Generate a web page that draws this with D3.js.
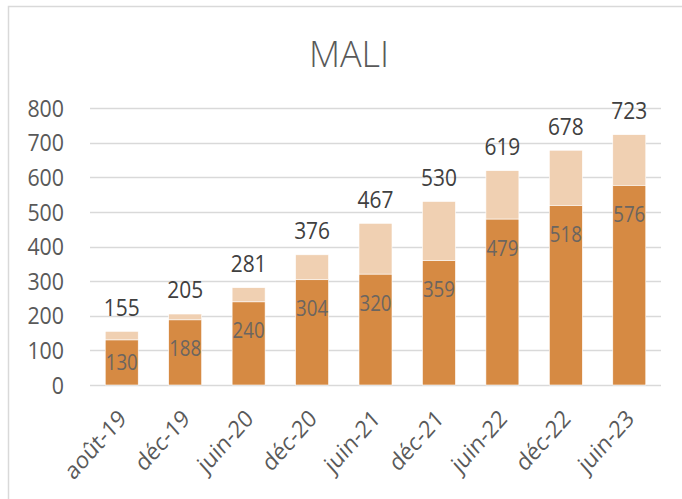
<!DOCTYPE html>
<html>
<head>
<meta charset="utf-8">
<script src="https://cdn.jsdelivr.net/npm/d3@7"></script>
<style>
  body { margin: 0; background: #fff; }
  text { font-family: "Open Sans", "Noto Sans", sans-serif; }
</style>
</head>
<body>
<div id="chart_mali"></div>
<script>
// values
const categories = ["août-19", "déc-19", "juin-20", "déc-20", "juin-21", "déc-21", "juin-22", "déc-22", "juin-23"];
const baseValues = [130, 188, 240, 304, 320, 359, 479, 518, 576];
const totalValues = [155, 205, 281, 376, 467, 530, 619, 678, 723];
const yTicks = [0, 100, 200, 300, 400, 500, 600, 700, 800];

(function mali() {

  let height = 499,
    width = 682,
    margin = ({ top: 108, right: 21, bottom: 114, left: 90 }),
    narrow = 0.89; // reference text is a bit condensed

  const svg = d3.select("#chart_mali")
    .append("svg")
    .attr("width", width)
    .attr("height", height);

  // chart frame
  svg.append("rect")
    .attr("x", 8.5)
    .attr("y", 6.5)
    .attr("width", 700)
    .attr("height", 500)
    .attr("fill", "none")
    .attr("stroke", "#d9d9d9")
    .attr("stroke-width", 1.5);

  let data = categories.map((c, i) => ({
    cat: c,
    base: baseValues[i],
    total: totalValues[i]
  }));

  let x = d3.scaleBand()
    .domain(categories)
    .range([margin.left, width - margin.right])
    .paddingInner(0.48)
    .paddingOuter(0.24);

  let y = d3.scaleLinear()
    .domain([0, 800])
    .range([height - margin.bottom, margin.top]);

  let cx = d => x(d.cat) + x.bandwidth() / 2;

  // gridlines
  svg.append("g")
    .selectAll("line")
    .data(yTicks)
    .join("line")
    .attr("x1", margin.left)
    .attr("x2", width - margin.right)
    .attr("y1", d => Math.round(y(d)) + 0.5)
    .attr("y2", d => Math.round(y(d)) + 0.5)
    .attr("stroke", "#d9d9d9")
    .attr("stroke-width", 1.5);

  // y labels
  svg.append("g")
    .selectAll("text")
    .data(yTicks)
    .join("text")
    .attr("transform", d => `translate(${margin.left - 26},${y(d)}) scale(${narrow},1)`)
    .attr("dy", "0.36em")
    .attr("text-anchor", "end")
    .attr("fill", "#595959")
    .attr("font-size", 24)
    .text(d => d);

  // light part (total)
  svg.append("g")
    .selectAll("rect")
    .data(data)
    .join("rect")
    .attr("x", d => x(d.cat))
    .attr("width", x.bandwidth())
    .attr("y", d => y(d.total))
    .attr("height", d => y(d.base) - y(d.total))
    .attr("fill", "#f0d0b2")
    .attr("stroke", "#fff")
    .attr("stroke-width", 0.6);

  // dark part (base)
  svg.append("g")
    .selectAll("rect")
    .data(data)
    .join("rect")
    .attr("x", d => x(d.cat))
    .attr("width", x.bandwidth())
    .attr("y", d => y(d.base))
    .attr("height", d => y(0) - y(d.base))
    .attr("fill", "#d68a43")
    .attr("stroke", "#fff")
    .attr("stroke-width", 0.6);

  // labels inside the dark bars
  svg.append("g")
    .selectAll("text")
    .data(data)
    .join("text")
    .attr("transform", d => `translate(${cx(d)},${Math.min(y(d.base) + 29, y(0) - 23)}) scale(${narrow},1)`)
    .attr("dy", "0.36em")
    .attr("text-anchor", "middle")
    .attr("fill", "#6b6560")
    .attr("font-size", 21)
    .text(d => d.base);

  // totals above
  svg.append("g")
    .selectAll("text")
    .data(data)
    .join("text")
    .attr("transform", d => `translate(${cx(d)},${y(d.total) - 24}) scale(${narrow},1)`)
    .attr("dy", "0.36em")
    .attr("text-anchor", "middle")
    .attr("fill", "#404040")
    .attr("font-size", 23.5)
    .text(d => d.total);

  // x labels, rotated (squeeze applied after rotation)
  svg.append("g")
    .selectAll("text")
    .data(categories)
    .join("text")
    .attr("transform", d => `translate(${x(d) + x.bandwidth() / 2 + 6},420) scale(${narrow},1) rotate(-45)`)
    .attr("text-anchor", "end")
    .attr("fill", "#595959")
    .attr("font-size", 24)
    .text(d => d);

  // title
  svg.append("text")
    .attr("x", 349)
    .attr("y", 67)
    .attr("text-anchor", "middle")
    .attr("fill", "#595959")
    .attr("font-size", 36)
    .attr("font-weight", 300)
    .text("MALI");

})();
</script>
</body>
</html>
